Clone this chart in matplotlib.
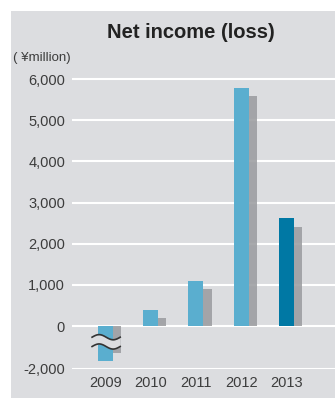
import numpy as np
import matplotlib.pyplot as plt
from matplotlib.patches import Rectangle

plt.rcParams['font.family'] = ['Liberation Sans', 'DejaVu Sans']

years = ["2009", "2010", "2011", "2012", "2013"]
current = [-1630, 400, 1100, 5780, 2620]   # blue bars (2009 drawn on the broken scale)
previous = [-1240, 200, 900, 5600, 2420]   # grey companion bars
yticks = [-2000, 0, 1000, 2000, 3000, 4000, 5000, 6000]

BG = "#dcdde0"
BLUE = "#5aaecf"
DARK = "#0078a4"
GREY = "#9c9da1"
NEG = 0.52   # compression of the negative part (axis is broken)


def fwd(y):
    y = np.asarray(y, dtype=float)
    return np.where(y < 0, y * NEG, y)


def inv(y):
    y = np.asarray(y, dtype=float)
    return np.where(y < 0, y / NEG, y)


W, H = 335, 398
fig = plt.figure(figsize=(W / 100, H / 100), dpi=100)
fig.patches.append(Rectangle((11 / W, 0), 1 - 11 / W, 1 - 11 / H, transform=fig.transFigure,
                             facecolor=BG, edgecolor="none", zorder=-10))

ax = fig.add_axes([72 / W, (H - 369) / H, (W - 72) / W, (369 - 70) / H])
ax.set_zorder(1)
ax.patch.set_alpha(0)
ax.set_yscale("function", functions=(fwd, inv))
ax.set_ylim(-2000, 6220)
ax.set_xlim(-0.733, 5.07)

for t in yticks:
    ax.axhline(t, color="white", lw=1.5, zorder=1)

x = np.arange(len(years))
bw, gw = 0.33, 0.185
cols = [BLUE] * 4 + [DARK]
ax.bar(x, current, width=bw, color=cols, zorder=2)
ax.bar(x + bw / 2 + gw / 2, previous, width=gw, color=GREY, alpha=0.88, zorder=2)

# wavy break marker across the 2009 bars
xs = np.linspace(-0.29, 0.33, 80)
wave = 120 * np.sin((xs + 0.29) / 0.62 * 2 * np.pi)
ya, yb = -515 + wave, -950 + wave
ax.fill_between(xs, ya, yb, color=BG, zorder=3, lw=0)
ax.plot(xs, ya, color="#333333", lw=1.2, zorder=4)
ax.plot(xs, yb, color="#333333", lw=1.2, zorder=4)

ax.set_xticks(x)
ax.set_xticklabels(years)
ax.set_yticks(yticks)
ax.set_yticklabels([f"{t:,}" for t in yticks])
ax.tick_params(length=0, labelsize=10.5, colors="#3c3c3c")
ax.tick_params(axis="x", pad=5)
ax.tick_params(axis="y", pad=5)
for s in ax.spines.values():
    s.set_visible(False)

fig.text(191 / W, 1 - 32 / H, "Net income (loss)", ha="center", va="center",
         fontsize=14.5, fontweight="bold", color="#222222")
fig.text(13 / W, 1 - 58 / H, "( ¥million)", ha="left", va="center",
         fontsize=9.5, color="#3c3c3c")

fig.savefig("out.png", dpi=100)
